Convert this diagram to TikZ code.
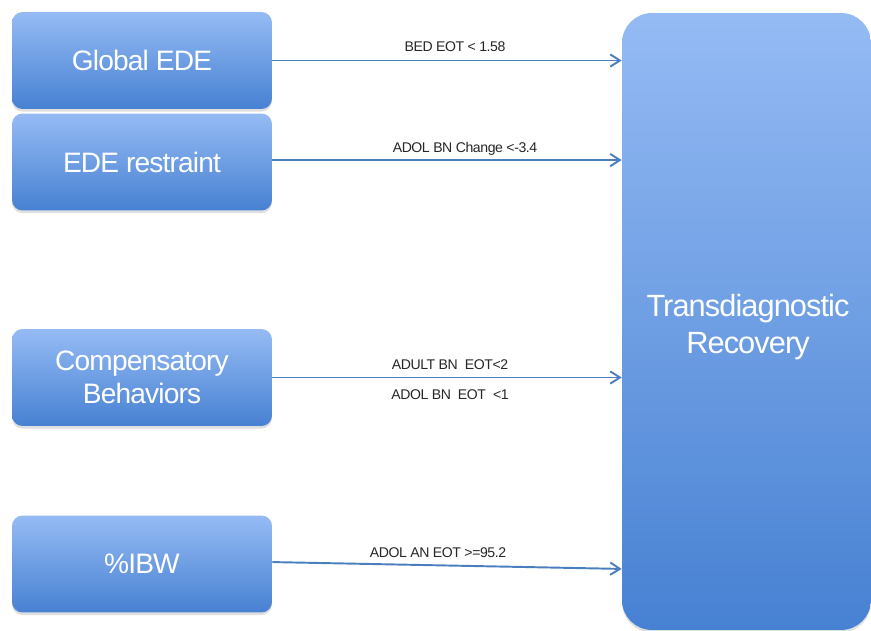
\documentclass[tikz,border=0pt]{standalone}
\usepackage{fontspec}
\setmainfont{Liberation Sans}[LetterSpace=-3]
\usepackage{tikz}
\usetikzlibrary{arrows.meta,shadows}
\usepackage{xcolor}

\definecolor{boxtop}{HTML}{95BBF4}
\definecolor{boxbottom}{HTML}{4781D2}
\definecolor{linkblue}{HTML}{4A7EBE}

\begin{document}
\begin{tikzpicture}[
    x=0.02cm, y=-0.02cm,
    box/.style = {
      shape=rectangle,
      rounded corners=6pt,
      top color=boxtop,
      bottom color=boxbottom,
      text=white,
      align=center,
      minimum width=5.2cm,
      minimum height=1.94cm,
      font=\fontsize{16}{18.5}\selectfont,
      drop shadow={opacity=0.25, shadow xshift=0pt, shadow yshift=-1.5pt}
    },
    bigbox/.style = {
      box,
      rounded corners=17pt,
      minimum width=4.98cm,
      minimum height=12.34cm,
      font=\fontsize{17.5}{21}\selectfont
    },
    cond/.style = {
      text=black!85,
      font=\fontsize{8}{9.5}\selectfont
    },
    arrow/.style = {
      -{Straight Barb[length=5.5pt, width=7pt]},
      draw=linkblue,
      line width=1.1pt
    }
  ]

    \useasboundingbox (0,0) rectangle (871,631);

    % Predictors on the left
    \node[box] (global)    at (142, 60.5) {Global EDE};
    \node[box] (restraint) at (142, 162)  {EDE restraint};
    \node[box] (compens)   at (142, 377.5) {Compensatory\\Behaviors};
    \node[box] (ibw)       at (142, 564)  {\%IBW};

    % Outcome box on the right
    \node[bigbox] (recovery) at (746.5, 321.5) {};
    \node[text=white, align=center, font=\fontsize{17.5}{21}\selectfont]
      (recovtext) at (748, 327) {Transdiagnostic\\Recovery};

    % Cut-off labels
    \node[cond] (bed)      at (455, 47)  {BED EOT < 1.58};
    \node[cond] (adolchg)  at (465, 149) {ADOL BN Change <-3.4};
    \node[cond] (adultbn)  at (450, 365) {ADULT BN\enspace EOT<2};
    \node[cond] (adolbn)   at (450, 395) {ADOL BN\enspace EOT\enspace <1};
    \node[cond] (adolan)   at (438, 553) {ADOL AN EOT >=95.2};

    % Arrows
    \draw[arrow] (global.east)    -- (global.east -| recovery.west);
    \draw[arrow] ([yshift=1.1pt]restraint.east)
      -- ([yshift=1.1pt]restraint.east -| recovery.west);
    \draw[arrow] (compens.east)   -- (compens.east -| recovery.west);
    \draw[arrow] ([yshift=1.1pt]ibw.east)
      -- ([yshift=-2.8pt]ibw.east -| recovery.west);

\end{tikzpicture}
\end{document}
